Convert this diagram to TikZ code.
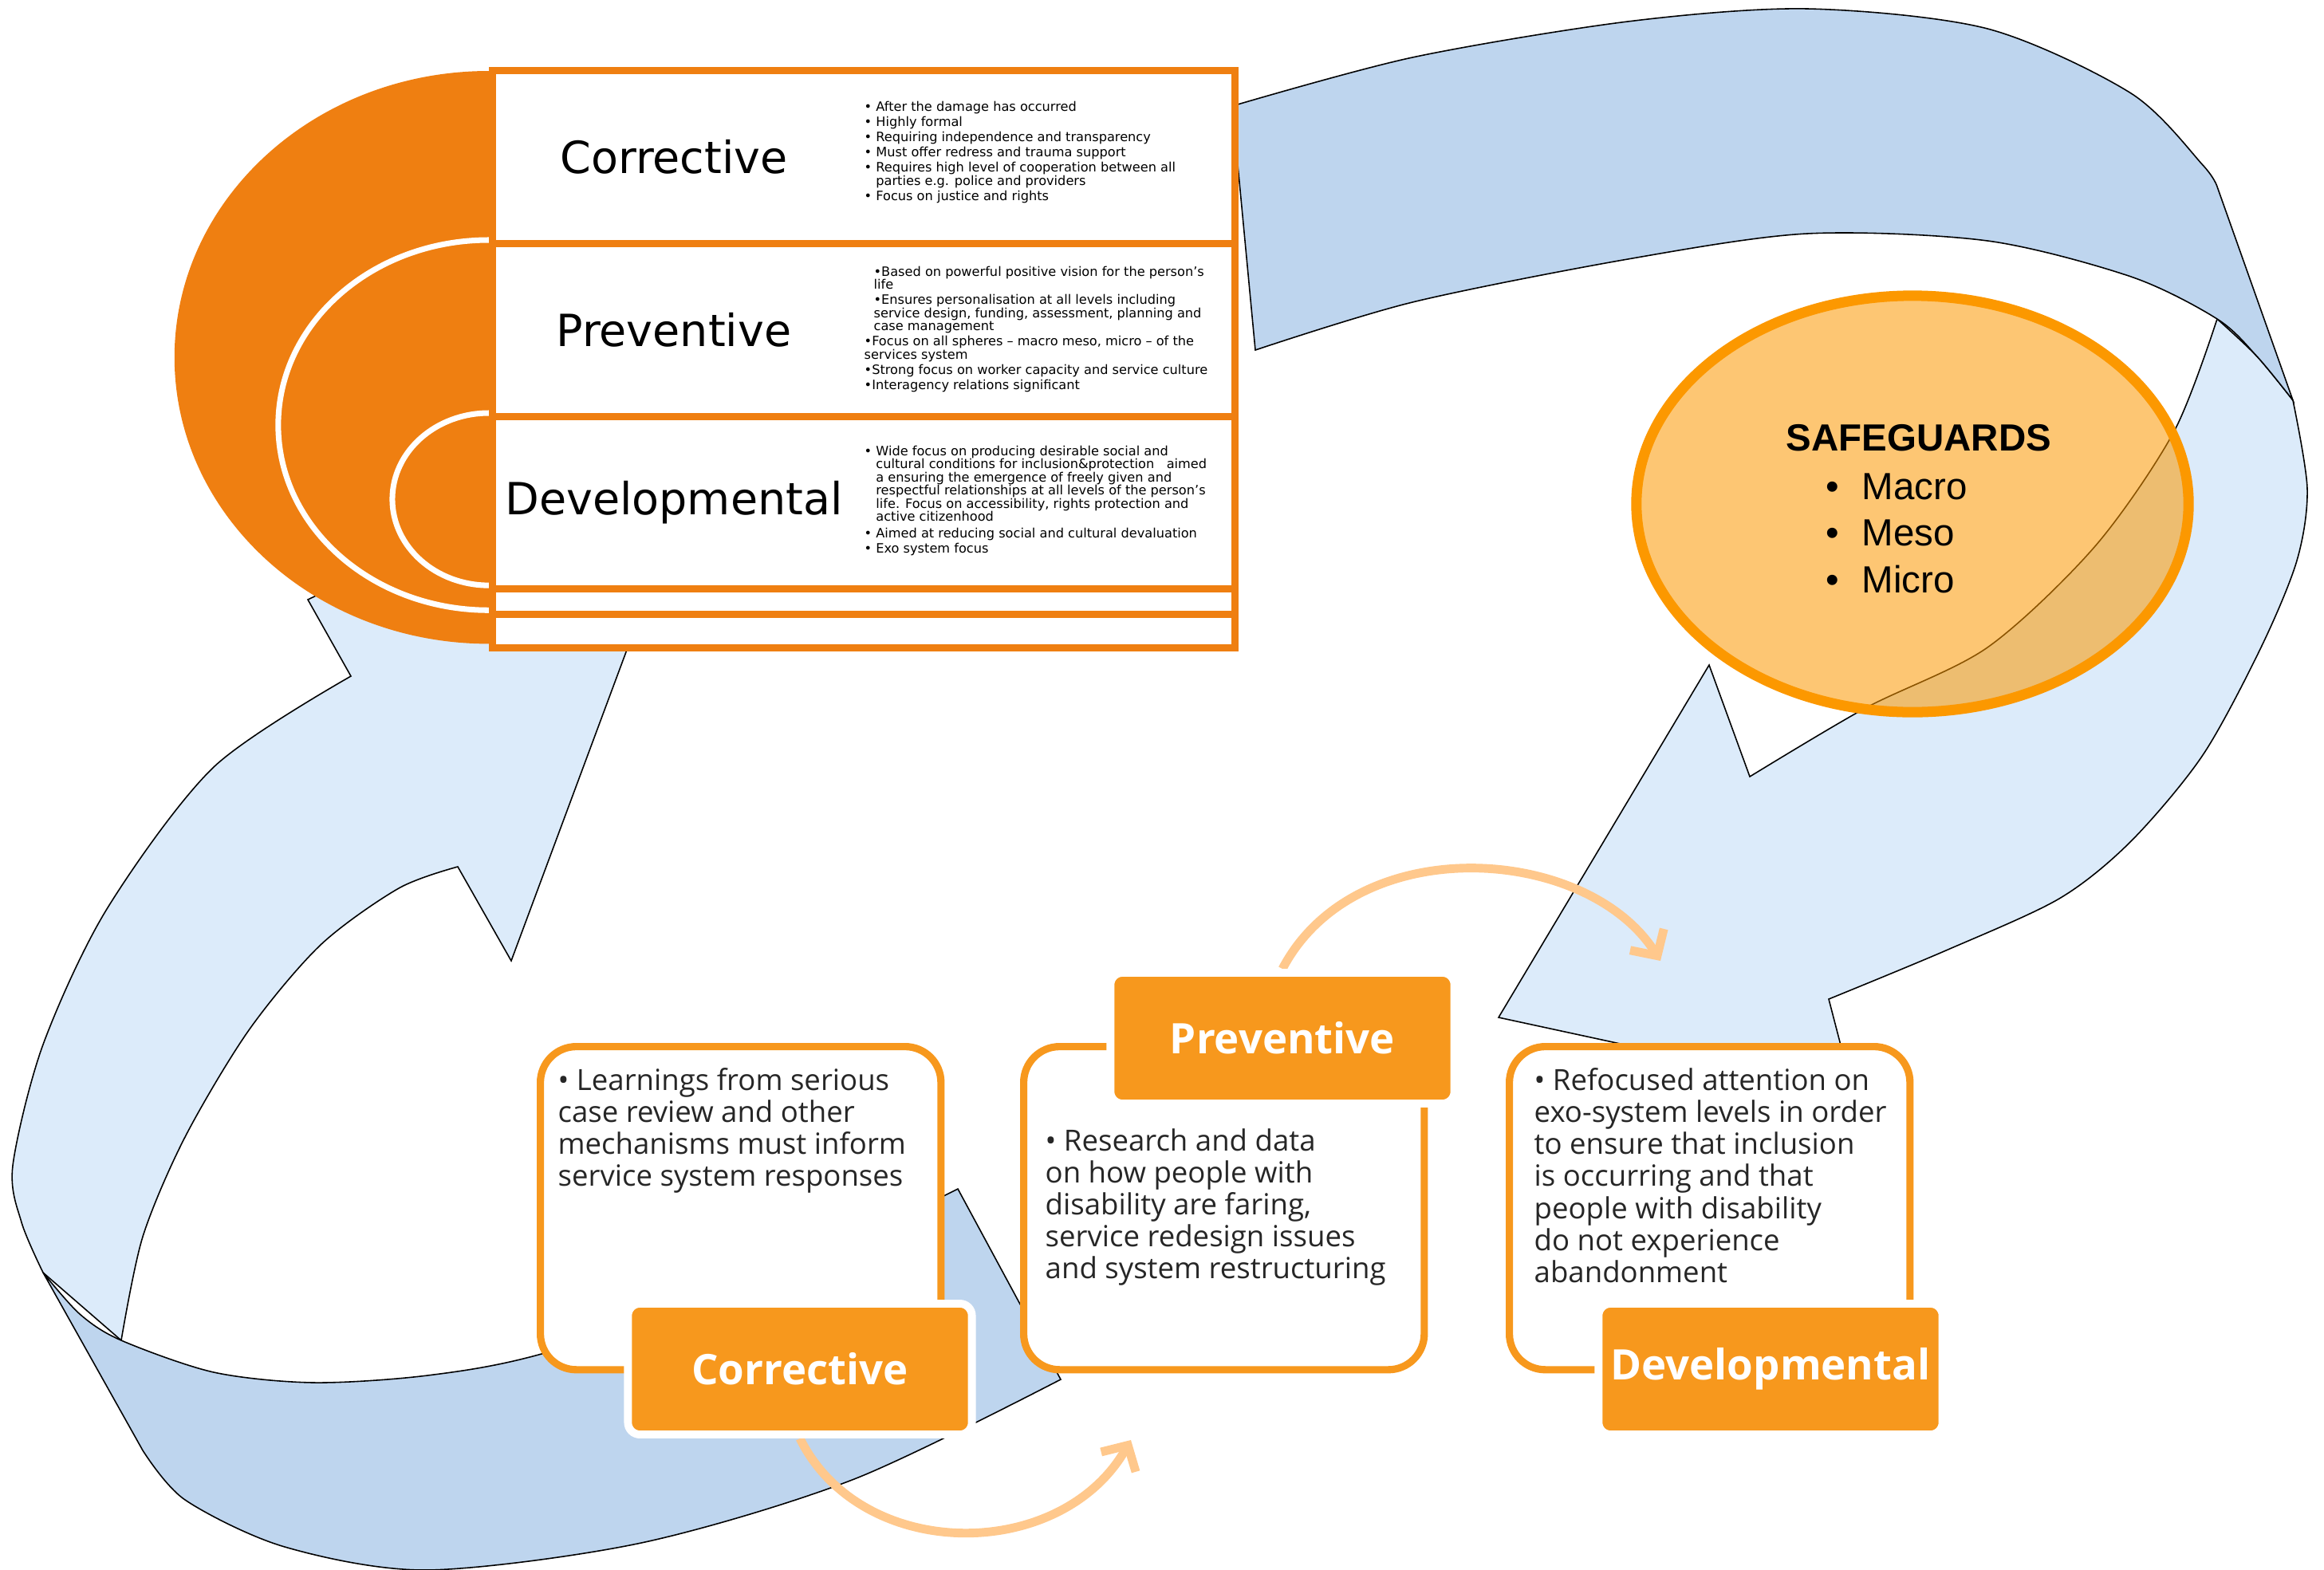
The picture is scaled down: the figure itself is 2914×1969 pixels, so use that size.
\documentclass[tikz,border=0pt]{standalone}
\usepackage{fontspec}
\setmainfont{Open Sans}
\newfontfamily\verdfont{DejaVu Sans}
\newfontfamily\arialfont{Liberation Sans}
\usepackage{tikz}
\usetikzlibrary{shapes.geometric,arrows.meta}
\pgfdeclarelayer{foreground}
\pgfsetlayers{main,foreground}
\definecolor{tableorange}{RGB}{239,127,17}
\definecolor{boxorange}{RGB}{247,152,29}
\definecolor{ringorange}{RGB}{252,152,0}
\definecolor{ribbonlight}{RGB}{220,235,250}
\definecolor{ribbondark}{RGB}{190,213,238}
\definecolor{arroworange}{RGB}{255,200,140}
\tikzstyle{tablerow}=[draw=tableorange, fill=white, line width=2.6pt,
  minimum width=9.3cm, inner sep=0pt, anchor=north west]
\tikzstyle{rowtitle}=[font=\verdfont\fontsize{15.8}{18}\selectfont]
\tikzstyle{rowtext}=[font=\verdfont\fontsize{4.6}{4.7}\selectfont,
  align=left, anchor=north west, inner sep=0pt]
\tikzstyle{ribbonlt}=[draw=black, line width=0.45pt, fill=ribbonlight]
\tikzstyle{ribbondk}=[ribbonlt, fill=ribbondark]
\tikzstyle{contentbox}=[draw=boxorange, fill=white, line width=2.6pt,
  rounded corners=0.45cm, minimum width=5.02cm, minimum height=4.05cm,
  anchor=north west]
\tikzstyle{boxtext}=[font=\fontsize{10.4}{11.4}\selectfont, text=black!85,
  align=left, anchor=north west, inner sep=0pt]
\tikzstyle{labelbox}=[draw=white, fill=boxorange, line width=2.8pt,
  rounded corners=0.15cm, minimum width=4.31cm, minimum height=1.64cm,
  text=white, font=\bfseries\fontsize{15}{18}\selectfont]
\tikzstyle{bendarrow}=[draw=arroworange, line width=3.1pt,
  -{Straight Barb[length=2.4mm, width=5mm]}]
\tikzstyle{safeellipse}=[ellipse, draw=ringorange, line width=3.7pt,
  fill=ringorange, fill opacity=0.55, minimum width=6.92cm,
  minimum height=5.22cm, inner sep=0pt]
\tikzstyle{sgtext}=[font=\arialfont\fontsize{13.5}{16.5}\selectfont, inner sep=0pt]

\begin{document}
\begin{tikzpicture}[x=0.01cm, y=-0.01cm]
\useasboundingbox (0,0) rectangle (2914,1969);

  % Big ribbon arrows
\path[ribbonlt] (440,848) -- (386,752) -- (620,640) -- (830,700) -- (786,815) -- (641,1205) -- (574,1087)
  -- plot[smooth] coordinates {(574,1087) (500,1114) (402,1185) (312,1292) (232,1426) (179,1551) (152,1681)}
  -- (54,1596)
  -- plot[smooth] coordinates {(54,1596) (27,1533) (16,1462) (54,1310) (134,1140) (268,962) (440,848)}
  -- cycle;
\path[ribbondk] (54,1596)
  -- plot[smooth] coordinates {(54,1596) (100,1648) (152,1681) (268,1721) (393,1734) (536,1725) (679,1698) (950,1610) (1201,1491)}
  -- (1330,1730)
  -- plot[smooth] coordinates {(1330,1730) (1071,1855) (804,1935) (536,1969) (357,1940) (232,1881) (179,1819)}
  -- cycle;
\path[ribbonlt] (2780,400)
  -- plot[smooth] coordinates {(2780,400) (2830,447) (2875,502)}
  -- plot[smooth] coordinates {(2875,502) (2893,613) (2880,703) (2835,812) (2762,947) (2672,1055) (2582,1127) (2440,1192) (2293,1253)}
  -- (2313,1330) -- (2200,1420) -- (2050,1313) -- (1879,1276) -- (2143,834) -- (2194,974)
  -- plot[smooth] coordinates {(2194,974) (2339,888) (2492,812) (2627,685) (2726,541) (2780,400)}
  -- cycle;
\path[ribbondk] (1545,133)
  -- plot[smooth] coordinates {(1545,133) (1771,72) (2041,27) (2266,11) (2492,36) (2672,117) (2762,207) (2780,234)}
  -- (2875,502)
  -- plot[smooth] coordinates {(2875,502) (2830,447) (2780,400) (2672,347) (2492,302) (2266,293) (2041,325) (1771,379) (1574,439)}
  -- cycle;

  % Half disc behind the table
\path[fill=tableorange] (613,89) arc[start angle=90, end angle=270, x radius=3.94cm, y radius=3.59cm] -- cycle;
\draw[white, line width=2pt] (613,301) arc[start angle=90, end angle=270, x radius=2.64cm, y radius=2.32cm];
\draw[white, line width=2pt] (613,518) arc[start angle=90, end angle=270, x radius=1.21cm, y radius=1.08cm];

  % Table
\node[tablerow, minimum height=2.17cm] (rowc) at (613,84) {};
\node[tablerow, minimum height=2.17cm] (rowp) at (613,301) {};
\node[tablerow, minimum height=2.16cm] (rowd) at (613,518) {};
\node[tablerow, minimum height=0.32cm] (rowe) at (613,734) {};
\node[tablerow, minimum height=0.42cm] (rowf) at (613,766) {};
\path (rowc.west)+(232,0) node[rowtitle] (tcor) {Corrective};
\path (rowp.west)+(232,0) node[rowtitle] (tpre) {Preventive};
\path (rowd.west)+(232,0) node[rowtitle] (tdev) {Developmental};
\path (rowc.north west)+(470,43) node[rowtext] (xcor) {%
  • After the damage has occurred\\[0.7pt]
  • Highly formal\\[0.7pt]
  • Requiring independence and transparency\\[0.7pt]
  • Must offer redress and trauma support\\[0.7pt]
  • Requires high level of cooperation between all\\
  \phantom{• }parties e.g. police and providers\\[0.7pt]
  • Focus on justice and rights};
\path (rowp.north west)+(470,32) node[rowtext] (xpre) {%
  \hspace*{3.4pt}•Based on powerful positive vision for the person’s\\
  \hspace*{3.4pt}life\\[0.7pt]
  \hspace*{3.4pt}•Ensures personalisation at all levels including\\
  \hspace*{3.4pt}service design, funding, assessment, planning and\\
  \hspace*{3.4pt}case management\\[0.7pt]
  •Focus on all spheres – macro meso, micro – of the\\
  services system\\[0.7pt]
  •Strong focus on worker capacity and service culture\\[0.7pt]
  •Interagency relations significant};
\path (rowd.north west)+(470,40) node[rowtext] (xdev) {%
  • Wide focus on producing desirable social and\\
  \phantom{• }cultural conditions for inclusion\&protection \ \ aimed\\
  \phantom{• }a ensuring the emergence of freely given and\\
  \phantom{• }respectful relationships at all levels of the person’s\\
  \phantom{• }life. Focus on accessibility, rights protection and\\
  \phantom{• }active citizenhood\\[1.2pt]
  • Aimed at reducing social and cultural devaluation\\[0.7pt]
  • Exo system focus};

  % Safeguards
\node[safeellipse] (safe) at (2398,632) {};
\path (safe.center)+(8,-67) node[sgtext, anchor=base] (sgtitle) {\bfseries SAFEGUARDS};
\path (safe.center)+(-64,-6) node[sgtext, anchor=base west] (smac) {\llap{•\hspace{8pt}}Macro};
\path (safe.center)+(-64,52) node[sgtext, anchor=base west] (smes) {\llap{•\hspace{8pt}}Meso};
\path (safe.center)+(-64,111) node[sgtext, anchor=base west] (smic) {\llap{•\hspace{8pt}}Micro};

  % Bottom boxes
\begin{pgfonlayer}{foreground}
\node[contentbox] (cbox) at (673,1308) {};
\node[contentbox] (pbox) at (1279,1308) {};
\node[contentbox] (dbox) at (1888,1308) {};
\path (cbox.north west)+(26,31) node[boxtext] (ctext) {• Learnings from serious\\
  case review and other\\mechanisms must inform\\service system responses};
\path (pbox.north west)+(31,107) node[boxtext] (ptext) {• Research and data\\
  on how people with\\disability are faring,\\service redesign issues\\
  and system restructuring};
\path (dbox.north west)+(35,31) node[boxtext] (dtext) {• Refocused attention on\\
  exo-system levels in order\\to ensure that inclusion\\is occurring and that\\
  people with disability\\do not experience\\abandonment};
\node[labelbox] (clab) at (1003,1717) {Corrective};
\node[labelbox] (plab) at (1608,1302) {Preventive};
\node[labelbox] (dlab) at (2220,1717) {Developmental};
\end{pgfonlayer}

  % Bent arrows between the boxes
\coordinate (a1end) at (1418,1806);
\coordinate (a2end) at (2082,1205);
\path[bendarrow] (clab.south) .. controls (1080,1960) and (1330,1960) .. (a1end);
\path[bendarrow] (plab.north) .. controls (1700,1040) and (1990,1060) .. (a2end);
\end{tikzpicture}
\end{document}
